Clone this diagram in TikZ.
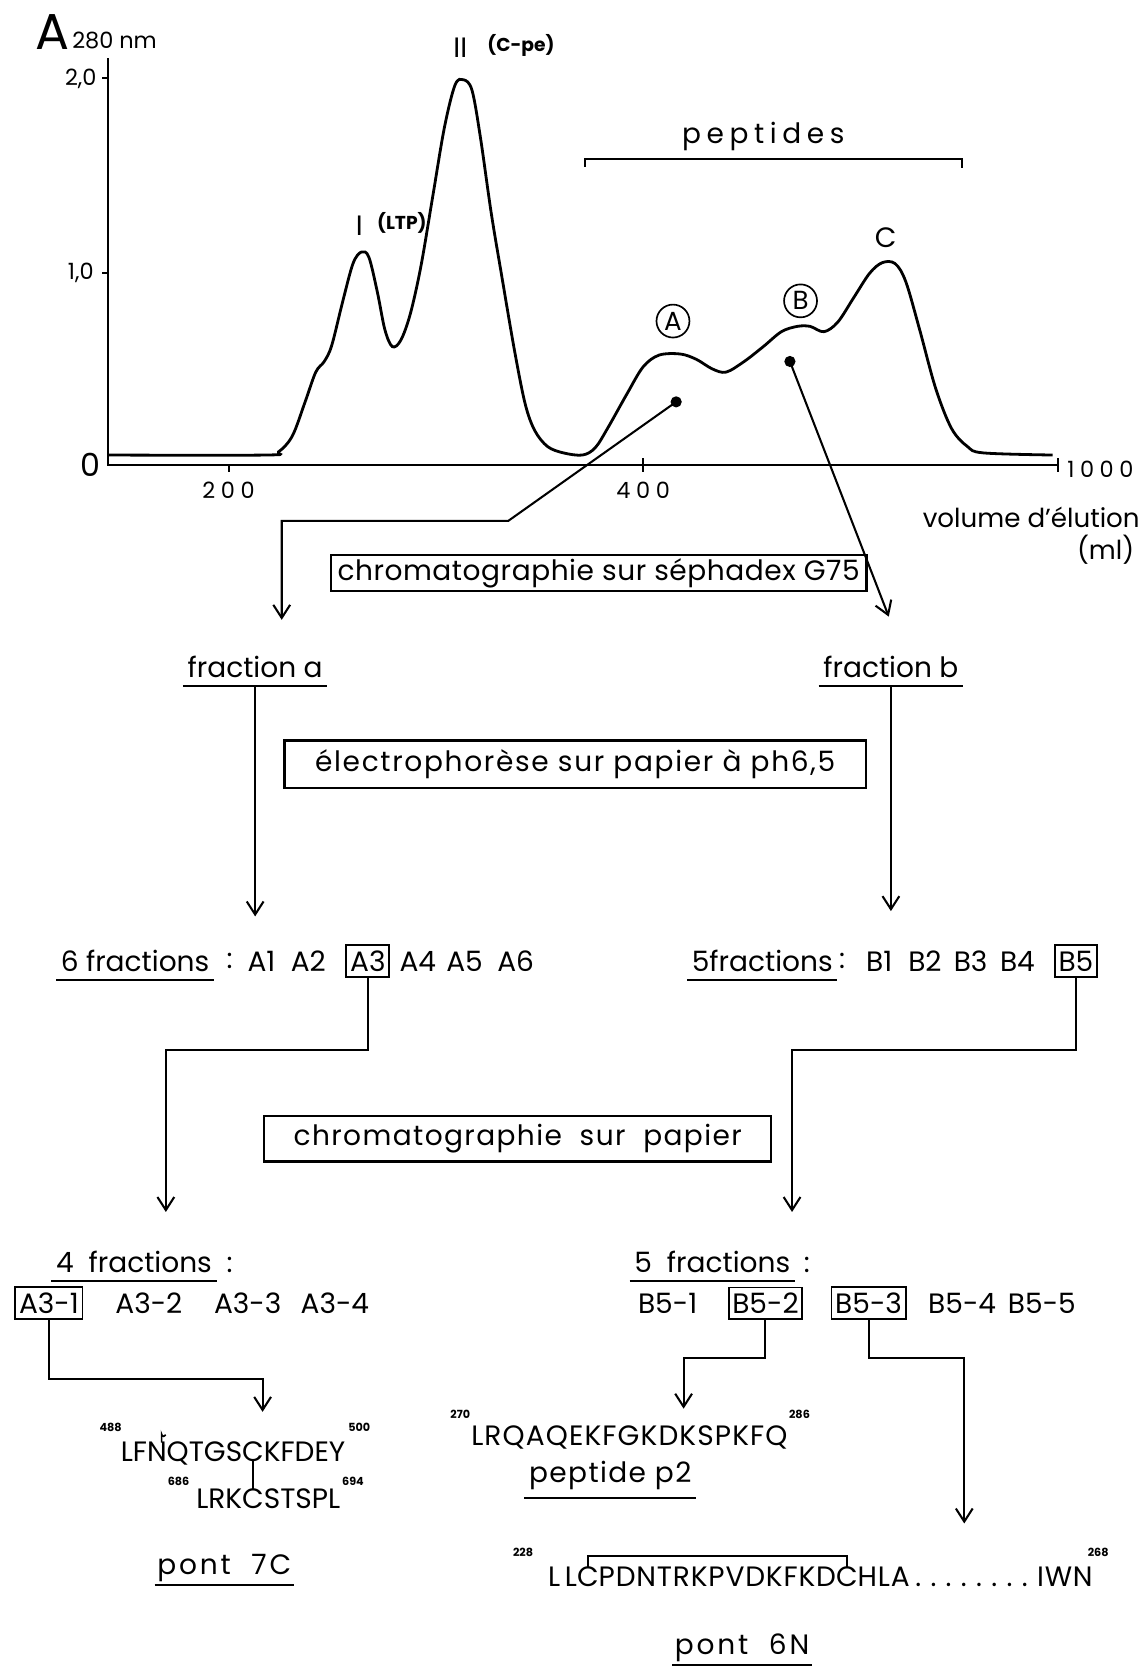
\documentclass[tikz,border=0pt]{standalone}
\usepackage{fontspec}
\setmainfont{Poppins}
\usetikzlibrary{arrows.meta,positioning,calc}

\begin{document}
\begin{tikzpicture}[x=0.02cm, y=-0.02cm, line width=1.1pt]
\tikzset{
  lbl/.style={font=\fontsize{15}{18}\selectfont, inner sep=1pt},
  ul/.style={lbl, inner xsep=2pt, inner ysep=4pt},
  proc/.style={draw, line width=1.2pt, font=\fontsize{15}{18}\selectfont, inner sep=0pt},
  sel/.style={draw, line width=1pt, inner xsep=2pt, inner ysep=3pt, font=\fontsize{15}{18}\selectfont},
  seq/.style={font=\fontsize{15}{18}\selectfont, inner sep=0pt, outer sep=0pt},
  resno/.style={font=\fontsize{6}{7}\selectfont\bfseries, inner sep=0pt},
  tick/.style={font=\fontsize{12}{14}\selectfont\addfontfeature{LetterSpace=25}, inner sep=0pt},
  flow/.style={-{Straight Barb[length=7pt,width=9pt]}, line width=1.1pt},
  dot/.style={circle, fill, inner sep=0pt, minimum size=6pt},
  peak/.style={circle, draw, line width=0.9pt, inner sep=0pt, minimum size=0.62cm, font=\fontsize{14}{16}\selectfont}
}
\useasboundingbox (0,0) rectangle (1079,1568);

% chromatogramme
\draw (102,55) -- (102,437) -- (995,437);
\draw (96,73) -- (102,73);
\draw (96,257) -- (102,257);
\draw (215,437) -- (215,444);
\draw (605,431) -- (605,444);
\draw (995,431) -- (995,444);
\draw[line width=1.5pt] plot[smooth, tension=0.55] coordinates {
  (102,428) (250,428) (262,425) (275,410) (287,378) (297,350) (305,340)
  (312,325) (322,285) (332,248) (340,237) (347,242) (355,275) (362,310)
  (369,326) (377,320) (386,295) (396,250) (407,185) (418,120) (428,80)
  (436,75) (444,85) (452,130) (462,200) (472,260) (484,330) (494,380)
  (503,405) (515,420) (530,426) (548,428) (560,421) (572,402) (590,370)
  (605,345) (620,334) (640,333) (655,338) (670,347) (683,350) (700,340)
  (718,326) (735,312) (750,307) (762,307) (775,312) (788,303) (803,280)
  (818,257) (830,247) (842,248) (852,265) (865,310) (880,365) (895,403)
  (910,420) (925,426) (990,428)};
\draw (550,157) -- (550,150) -- (905,150) -- (905,158);

\node[font=\fontsize{27}{29}\selectfont, inner sep=0pt] (absA) at (49,30) {A};
\node[font=\fontsize{12}{14}\selectfont, inner sep=0pt, anchor=west] (absnm) at (67,38) {280 nm};
\node[font=\fontsize{12}{14}\selectfont, inner sep=0pt] (y2) at (76,74) {2,0};
\node[font=\fontsize{12}{14}\selectfont, inner sep=0pt] (y1) at (76,257) {1,0};
\node[font=\fontsize{17}{18}\selectfont, inner sep=0pt] (y0) at (85,437) {0};
\node[tick] (x200) at (215,461) {200};
\node[tick] (x400) at (605,461) {400};
\node[tick] (x1000) at (1035,441) {1000};
\node[lbl, font=\fontsize{14}{16}\selectfont] (vol) at (970,487) {volume d'élution};
\node[lbl, font=\fontsize{14}{16}\selectfont] (ml) at (1040,517) {(ml)};

\node[lbl] (pI) at (338,212) {I};
\node[lbl, font=\fontsize{10}{11}\selectfont\bfseries] (pIt) at (378,210) {(LTP)};
\node[lbl] (pII) at (433,45) {II};
\node[lbl, font=\fontsize{10}{11}\selectfont\bfseries] (pIIt) at (490,43) {(C-pe)};
\node[lbl, font=\fontsize{15}{18}\selectfont\addfontfeature{LetterSpace=20}] (pept) at (718,128) {peptides};
\node[lbl] (pC) at (833,224) {C};
\node[peak] (pA) at (633,302) {A};
\node[peak] (pB) at (753,283) {B};
\node[dot] (dotA) at (636,378) {};
\node[dot] (dotB) at (743,340) {};

% premiere etape
\node[proc, minimum width=10.08cm, minimum height=0.68cm, font=\fontsize{15}{18}\selectfont\addfontfeature{LetterSpace=2}] (sepha) at (563,539) {chromatographie sur séphadex G75};
\coordinate (kA) at (478,490);
\coordinate (inA) at (265,583);
\coordinate (inB) at (836,580);
\draw[flow] (dotA.center) -- (kA) -| (inA);
\draw[flow] (dotB.center) -- (inB);

\node[ul] (fa) at (240,627) {fraction a};
\node[ul] (fb) at (838,627) {fraction b};
\draw (fa.south west) -- (fa.south east);
\draw (fb.south west) -- (fb.south east);
\node[proc, minimum width=10.94cm, minimum height=0.9cm, font=\fontsize{15}{18}\selectfont\addfontfeature{LetterSpace=6}] (elec) at (541,719) {électrophorèse sur papier à ph6,5};
\coordinate (inFa) at (240,862);
\coordinate (inFb) at (838,857);
\draw[flow] (fa.south) -- (inFa);
\draw[flow] (fb.south) -- (inFb);

% fractions A et B
\node[ul] (sixfr) at (127,904) {6 fractions};
\draw (sixfr.south west) -- (sixfr.south east);
\node[lbl] at (216,904) {:};
\node[lbl] (a1) at (246,904) {A1};
\node[lbl] (a2) at (290,904) {A2};
\node[sel] (a3) at (346,904) {A3};
\node[lbl] (a4) at (393,904) {A4};
\node[lbl] (a5) at (437,904) {A5};
\node[lbl] (a6) at (485,904) {A6};
\node[ul] (fivefr) at (717,904) {5fractions};
\draw (fivefr.south west) -- (fivefr.south east);
\node[lbl] at (792,904) {:};
\node[lbl] (b1) at (827,904) {B1};
\node[lbl] (b2) at (870,904) {B2};
\node[lbl] (b3) at (913,904) {B3};
\node[lbl] (b4) at (957,904) {B4};
\node[sel] (b5) at (1012,904) {B5};

\node[proc, minimum width=9.54cm, minimum height=0.86cm, font=\fontsize{15}{18}\selectfont\addfontfeature{LetterSpace=5}] (papier) at (487,1071) {chromatographie\ \ sur\ \ papier\hspace{0.35cm}};
\coordinate (kA3) at (156,988);
\coordinate (inA3) at (156,1140);
\coordinate (kB5) at (745,988);
\coordinate (inB5) at (745,1140);
\draw[flow] (a3.south) |- (kA3) -- (inA3);
\draw[flow] (b5.south) |- (kB5) -- (inB5);

% sous-fractions
\node[ul] (fourfr) at (126,1187) {4\ \ fractions};
\draw (fourfr.south west) -- (fourfr.south east);
\node[lbl] at (216,1190) {:};
\node[sel] (a31) at (46,1226) {A3-1};
\node[lbl] (a32) at (140,1226) {A3-2};
\node[lbl] (a33) at (233,1226) {A3-3};
\node[lbl] (a34) at (315,1226) {A3-4};
\node[ul] (fivefrb) at (670,1187) {5\ \ fractions};
\draw (fivefrb.south west) -- (fivefrb.south east);
\node[lbl] at (759,1190) {:};
\node[lbl] (b51) at (628,1226) {B5-1};
\node[sel] (b52) at (720,1226) {B5-2};
\node[sel] (b53) at (817,1226) {B5-3};
\node[lbl] (b54) at (905,1226) {B5-4};
\node[lbl] (b55) at (980,1226) {B5-5};

\coordinate (k31) at (247,1297);
\coordinate (in31) at (247,1328);
\coordinate (k52) at (643,1277);
\coordinate (in52) at (643,1325);
\coordinate (k53) at (907,1277);
\coordinate (in53) at (907,1433);
\draw[flow] (a31.south) |- (k31) -- (in31);
\draw[flow] (b52.south) |- (k52) -- (in52);
\draw[flow] (b53.south) |- (k53) -- (in53);

% pont 7C
\node[seq] (c7a) at (238,1365) {C};
\node[seq, anchor=base east] (s7a) at (c7a.base west) {LFNQTGS};
\node[seq, anchor=base west] (s7b) at (c7a.base east) {KFDEY};
\node[seq] (c7b) at (238,1410) {C};
\node[seq, anchor=base east] (s7c) at (c7b.base west) {LRK};
\node[seq, anchor=base west] (s7d) at (c7b.base east) {STSPL};
\draw[line width=0.9pt] (c7a.south) -- (c7b.north);
\node[resno] at (104,1343) {488};
\node[resno] at (338,1343) {500};
\node[resno] at (168,1393) {686};
\node[resno] at (332,1393) {694};
\draw[line width=0.9pt] (152,1357) -- (152,1349) arc[start angle=180, end angle=20, radius=2];
\node[lbl, font=\fontsize{15}{18}\selectfont\addfontfeature{LetterSpace=10}] (pont7) at (211,1475) {pont\ \ 7C};
\draw (pont7.south west) -- (pont7.south east);

% peptide p2
\node[seq, font=\fontsize{15}{18}\selectfont\addfontfeature{LetterSpace=4}] (s270) at (592,1352) {LRQAQEKFGKDKSPKFQ};
\node[resno] at (433,1330) {270};
\node[resno] at (752,1330) {286};
\node[ul, font=\fontsize{15}{18}\selectfont\addfontfeature{LetterSpace=5}] (p2) at (574,1388) {peptide\ p2};
\draw (p2.south west) -- (p2.south east);

% pont 6N
\tikzset{seqw/.style={seq, font=\fontsize{15}{18}\selectfont\addfontfeature{LetterSpace=3}}}
\node[seqw] (c6a) at (553,1483) {C};
\node[seqw, anchor=base east] (s6a) at (c6a.base west) {L\,L};
\node[seqw, anchor=base west] (s6b) at (c6a.base east) {PDNTRKPVDKFKD};
\node[seqw, anchor=base west] (c6b) at (s6b.base east) {C};
\node[seqw, anchor=base west] (s6c) at (c6b.base east) {HLA\hspace{3pt}.\hspace{5pt}.\hspace{5pt}.\hspace{5pt}.\hspace{5pt}.\hspace{5pt}.\hspace{5pt}.\hspace{5pt}.\hspace{5pt}IWN};
\draw[line width=0.9pt] (c6a.north) -- ++(0,-10) -| (c6b.north);
\node[resno] at (492,1460) {228};
\node[resno] at (1033,1460) {268};
\node[lbl, font=\fontsize{15}{18}\selectfont\addfontfeature{LetterSpace=10}] (pont6) at (698,1550) {pont\ \ 6N};
\draw (pont6.south west) -- (pont6.south east);
\end{tikzpicture}
\end{document}
